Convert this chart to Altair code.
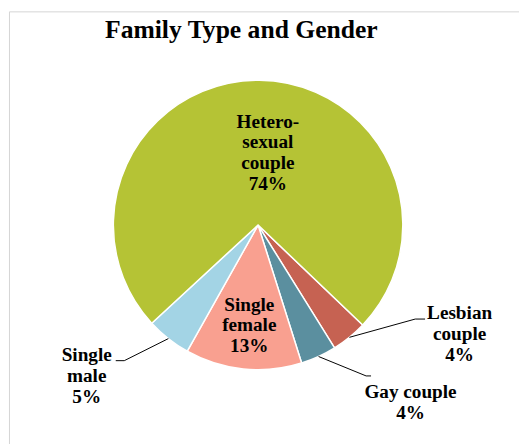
import math
import altair as alt
import pandas as pd

# ---- data ----
categories = ["Lesbian couple", "Gay couple", "Single female", "Single male", "Heterosexual couple"]
values = [4, 4, 13, 5, 74]
label_texts = ["Lesbian\ncouple", "Gay couple", "Single\nfemale", "Single\nmale", "Hetero-\nsexual\ncouple"]
colors = ["#c66252", "#5b8f9f", "#f9a090", "#a3d4e5", "#b5c335"]
title_text = "Family Type and Gender"

# ---- layout ----
W, H = 519, 436
CX, CY, R = 254, 217, 147
START_DEG = 133.7
FONT = "Liberation Serif"
LABEL_SIZE, LINE_H = 19.5, 21
# label placement: (angle offset from slice middle in degrees, radius)
label_place = {
    "Lesbian couple": (-22.5, 232.7),
    "Gay couple": (-15.9, 237.9),
    "Single female": (-0.9, 102.4),
    "Single male": (10.3, 232.0),
    "Heterosexual couple": (7.2, 74.2),
}
# leader lines: (elbow angle offset, elbow radius, tail length in px)
leader_place = {
    "Lesbian couple": (-20.0, 186.0, 10.0),
    "Gay couple": (-10.9, 188.5, 5.0),
    "Single male": (6.3, 193.5, -8.7),
}

total = sum(values)
pie_df = pd.DataFrame({"category": categories, "value": values, "idx": list(range(len(values)))})


def polar(deg, r):
    a = math.radians(deg)
    return CX + r * math.sin(a), CY - r * math.cos(a)


mids = {}
cum = 0
for c, v in zip(categories, values):
    mids[c] = START_DEG + 360.0 * (cum + v / 2) / total
    cum += v

lab_rows = []
for c, v, t in zip(categories, values, label_texts):
    d, r = label_place[c]
    x, y = polar(mids[c] + d, r)
    txt = f"{t}\n{v}%"
    n = txt.count("\n") + 1
    lab_rows.append({"category": c, "text": txt, "x": x, "y": y - (n - 1) * LINE_H / 2})
lab_df = pd.DataFrame(lab_rows)

line_rows = []
for c, (d, r, tail) in leader_place.items():
    x0, y0 = polar(mids[c], R)
    x1, y1 = polar(mids[c] + d, r)
    line_rows += [
        {"category": c, "k": 0, "x": x0, "y": y0},
        {"category": c, "k": 1, "x": x1, "y": y1},
        {"category": c, "k": 2, "x": x1 + tail, "y": y1},
    ]
line_df = pd.DataFrame(line_rows)

s = math.radians(START_DEG)
pie = alt.Chart(pie_df).mark_arc(radius=R, stroke="white", strokeWidth=1.5).encode(
    theta=alt.Theta("value:Q", stack=True, scale=alt.Scale(range=[s, s + 2 * math.pi])),
    color=alt.Color("category:N", scale=alt.Scale(domain=categories, range=colors), legend=None),
    order=alt.Order("idx:Q"),
    x=alt.value(CX),
    y=alt.value(CY),
)

lines = alt.Chart(line_df).mark_line(color="black", strokeWidth=1).encode(
    x=alt.X("x:Q", scale=None),
    y=alt.Y("y:Q", scale=None),
    detail="category:N",
    order="k:Q",
)

labels = alt.Chart(lab_df).mark_text(
    font=FONT, fontSize=LABEL_SIZE, fontWeight="bold", lineBreak="\n", lineHeight=LINE_H,
    align="center", baseline="middle", color="black",
).encode(
    x=alt.X("x:Q", scale=None),
    y=alt.Y("y:Q", scale=None),
    text="text:N",
)

title = alt.Chart(pd.DataFrame({"t": [title_text]})).mark_text(
    font=FONT, fontSize=26, fontWeight="bold", align="center", baseline="alphabetic", color="black",
).encode(x=alt.value(237), y=alt.value(27), text="t:N")

frame = alt.Chart(pd.DataFrame({"a": [0]})).mark_rect(
    fillOpacity=0, stroke="#d4d4d4", strokeWidth=1
).encode(x=alt.value(1.5), y=alt.value(0.5), x2=alt.value(900), y2=alt.value(900))

chart = alt.layer(frame, pie, lines, labels, title).properties(
    width=W, height=H, padding=0, autosize=alt.AutoSizeParams(type="none"), background="white"
).configure(font=FONT).configure_text(font=FONT).configure_view(stroke=None)

chart.save("out.html", embed_options={"renderer": "svg", "actions": False})
